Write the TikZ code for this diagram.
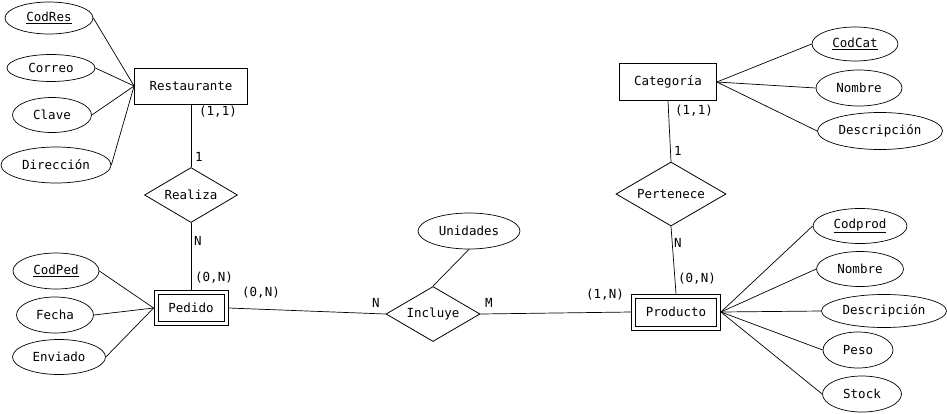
\documentclass[tikz,border=0pt]{standalone}
\usepackage{fontspec}
\setmainfont{DejaVu Sans Mono}
\usetikzlibrary{shapes.geometric}

\tikzset{
    entidad/.style={draw,rectangle,inner sep=0pt,line width=0.8pt},
    relacion/.style={draw,diamond,aspect=1.7,inner sep=0pt,line width=0.8pt},
    atributo/.style={draw,ellipse,inner sep=0pt,line width=0.7pt},
    linea/.style={line width=0.7pt},
    card/.style={inner sep=0pt}
}

\begin{document}
\begin{tikzpicture}[x=1pt,y=-1pt,font=\fontsize{12.5}{15}\selectfont]
    \useasboundingbox (0,0) rectangle (947,413);

    % Entidades
    \node[entidad,minimum width=113pt,minimum height=36pt] (res) at (191,86) {Restaurante};
    \node[entidad,minimum width=97pt,minimum height=37pt] (cat) at (668,82) {Categoría};
    \node[entidad,minimum width=74pt,minimum height=35pt] (ped) at (191,308) {Pedido};
    \node[entidad,minimum width=89pt,minimum height=36pt] (pro) at (676,312) {Producto};

    % Innerer Rahmen (schwache Entitaeten)
    \foreach \e in {ped,pro} {
        \draw[line width=0.8pt] ([shift={(4.5,4.5)}]\e.north west) rectangle ([shift={(-4.5,-4.5)}]\e.south east);
    }

    % Relaciones
    \node[relacion,minimum width=93pt,minimum height=55pt] (rea) at (191,195) {Realiza};
    \node[relacion,minimum width=94pt,minimum height=55pt] (inc) at (433,314) {Incluye};
    \node[relacion,minimum width=110pt,minimum height=64pt] (per) at (671,194) {Pertenece};

    % Atributos Restaurante
    \node[atributo,minimum width=88pt,minimum height=32pt] (codres) at (49,18) {\underline{CodRes}};
    \node[atributo,minimum width=88pt,minimum height=27pt] (correo) at (51,68) {Correo};
    \node[atributo,minimum width=79pt,minimum height=35pt] (clave) at (52,115) {Clave};
    \node[atributo,minimum width=110pt,minimum height=36pt] (dir) at (56,165) {Dirección};
    \foreach \a in {codres,correo,clave,dir} {
        \draw[linea] (\a.east) -- (res.west);
    }

    % Atributos Pedido
    \node[atributo,minimum width=86pt,minimum height=36pt] (codped) at (56,271) {\underline{CodPed}};
    \node[atributo,minimum width=77pt,minimum height=36pt] (fecha) at (55,315) {Fecha};
    \node[atributo,minimum width=93pt,minimum height=35pt] (env) at (59,357) {Enviado};
    \foreach \a in {codped,fecha,env} {
        \draw[linea] (\a.east) -- (ped.west);
    }

    % Atributo Incluye
    \node[atributo,minimum width=102pt,minimum height=36pt] (uni) at (469,231) {Unidades};
    \draw[linea] (uni.south) -- (inc.north);

    % Atributos Categoria
    \node[atributo,minimum width=86pt,minimum height=34pt] (codcat) at (855,44) {\underline{CodCat}};
    \node[atributo,minimum width=86pt,minimum height=36pt] (nomcat) at (859,88) {Nombre};
    \node[atributo,minimum width=125pt,minimum height=37pt] (descat) at (880,131) {Descripción};
    \foreach \a in {codcat,nomcat,descat} {
        \draw[linea] (cat.east) -- (\a.west);
    }

    % Atributos Producto
    \node[atributo,minimum width=94pt,minimum height=35pt] (codpro) at (860,226) {\underline{Codprod}};
    \node[atributo,minimum width=87pt,minimum height=35pt] (nompro) at (860,269) {Nombre};
    \node[atributo,minimum width=125pt,minimum height=33pt] (despro) at (884,311) {Descripción};
    \node[atributo,minimum width=70pt,minimum height=36pt] (peso) at (858,350) {Peso};
    \node[atributo,minimum width=79pt,minimum height=36pt] (stock) at (862,394) {Stock};
    \foreach \a in {codpro,nompro,despro,peso,stock} {
        \draw[linea] (pro.east) -- (\a.west);
    }

    % Verbindungen
    \draw[linea] (res.south) -- (rea.north);
    \draw[linea] (rea.south) -- (ped.north);
    \draw[linea] (ped.east) -- (inc.west);
    \draw[linea] (inc.east) -- (pro.west);
    \draw[linea] (cat.south) -- (per.north);
    \draw[linea] (per.south) -- (pro.north);

    % Kardinalitaeten
    \node[card] (c1) at (218,112) {(1,1)};
    \node[card] (c2) at (199,157) {1};
    \node[card] (c3) at (198,241) {N};
    \node[card] (c4) at (214,278) {(0,N)};
    \node[card] (c5) at (261,293) {(0,N)};
    \node[card] (c6) at (376,303) {N};
    \node[card] (c7) at (489,303) {M};
    \node[card] (c8) at (605,295) {(1,N)};
    \node[card] (c9) at (697,279) {(0,N)};
    \node[card] (c10) at (678,243) {N};
    \node[card] (c11) at (678,151) {1};
    \node[card] (c12) at (694,111) {(1,1)};
\end{tikzpicture}
\end{document}
